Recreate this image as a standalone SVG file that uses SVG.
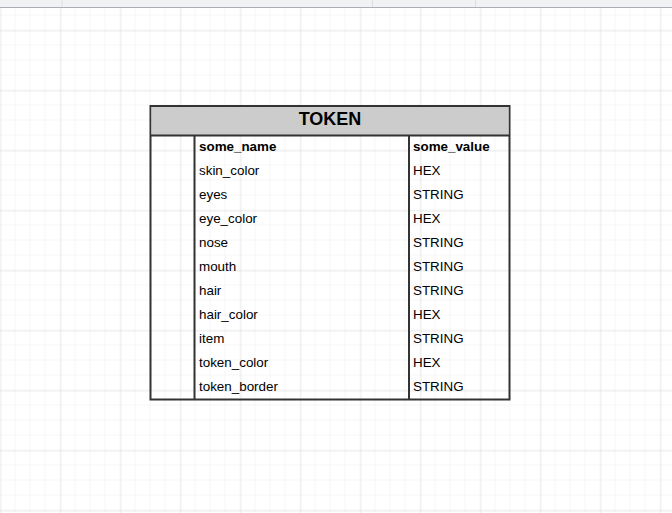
<svg xmlns="http://www.w3.org/2000/svg" width="672" height="513" viewBox="0 0 672 513">
<defs>
<pattern id="minor" x="0.5" y="0.5" width="15" height="15" patternUnits="userSpaceOnUse"><path d="M15 0V15M0 15H15" fill="none" stroke="#ececec" stroke-width="1"/></pattern>
<pattern id="major" x="0.5" y="30.5" width="60" height="60" patternUnits="userSpaceOnUse"><path d="M0 0V60M0 0H60" fill="none" stroke="#dcdcdc" stroke-width="1"/></pattern>
</defs>
<style>
.t{font-family:"Liberation Sans",Arial,sans-serif;font-size:13.4px;fill:#000}
.b{font-weight:bold}
.ln{stroke:#333;stroke-width:2;fill:none}
</style>
<rect width="672" height="513" fill="#fff"/>
<rect width="672" height="513" fill="url(#minor)"/>
<rect width="672" height="513" fill="url(#major)"/>
<rect x="0" y="0" width="672" height="7" fill="#f1f2f4"/>
<line x1="0" y1="7.5" x2="672" y2="7.5" stroke="#a9aeb5" stroke-width="1"/>
<g stroke="#dcdee2" stroke-width="1"><line x1="62" y1="0" x2="62" y2="7"/><line x1="372.5" y1="0" x2="372.5" y2="7"/><line x1="475.5" y1="0" x2="475.5" y2="7"/></g>
<g id="token">
<rect x="150.5" y="106" width="359" height="293.5" fill="#fff" class="ln"/>
<rect x="151.5" y="107" width="357" height="28" fill="#cccccc"/>
<line x1="150.5" y1="135.5" x2="509.5" y2="135.5" class="ln"/>
<line x1="194.5" y1="135.5" x2="194.5" y2="399.5" class="ln"/>
<line x1="409" y1="135.5" x2="409" y2="399.5" class="ln"/>
<text x="330" y="124.5" text-anchor="middle" class="t b" style="font-size:18px">TOKEN</text>
<g class="t">
<text x="199" y="151" class="b">some_name</text>
<text x="199" y="175">skin_color</text>
<text x="199" y="199">eyes</text>
<text x="199" y="223">eye_color</text>
<text x="199" y="247">nose</text>
<text x="199" y="271">mouth</text>
<text x="199" y="295">hair</text>
<text x="199" y="319">hair_color</text>
<text x="199" y="343">item</text>
<text x="199" y="367">token_color</text>
<text x="199" y="391">token_border</text>
<text x="413" y="151" class="b">some_value</text>
<text x="413" y="175">HEX</text>
<text x="413" y="199">STRING</text>
<text x="413" y="223">HEX</text>
<text x="413" y="247">STRING</text>
<text x="413" y="271">STRING</text>
<text x="413" y="295">STRING</text>
<text x="413" y="319">HEX</text>
<text x="413" y="343">STRING</text>
<text x="413" y="367">HEX</text>
<text x="413" y="391">STRING</text>
</g>
</g>
<g id="connectors"/>
</svg>
